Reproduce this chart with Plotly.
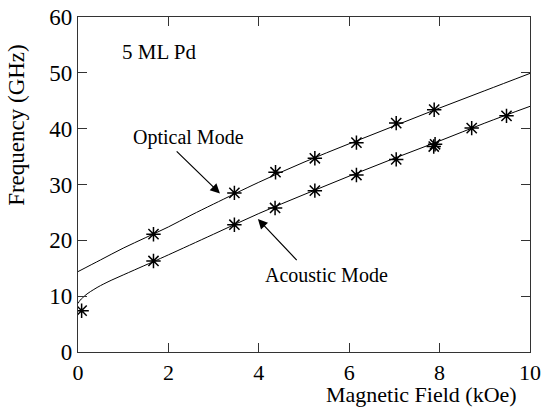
import plotly.graph_objects as go

# Measured points
opt_x = [1.67, 3.46, 4.37, 5.24, 6.16, 7.04, 7.88]
opt_y = [21.1, 28.5, 32.2, 34.7, 37.5, 41.0, 43.4]
ac_x = [0.08, 1.67, 3.46, 4.36, 5.24, 6.16, 7.04, 7.87, 7.90, 8.71, 9.48]
ac_y = [7.4, 16.3, 22.8, 25.8, 28.9, 31.7, 34.5, 36.8, 37.2, 40.1, 42.3]

# Fitted curves
opt_cx = [0, 0.5, 1, 1.5, 2, 2.5, 3, 4, 5, 6, 7, 8, 9, 10]
opt_cy = [14.4, 16.5, 18.6, 20.5, 22.4, 24.5, 26.5, 30.4, 34.0, 37.3, 40.5, 43.7, 46.8, 49.9]
ac_cx = [0, 0.05, 0.1, 0.2, 0.35, 0.5, 0.75, 1, 1.25, 1.67, 2, 3, 4, 5, 6, 7, 8, 9, 10]
ac_cy = [8.7, 9.3, 9.7, 10.4, 11.2, 11.9, 12.9, 13.8, 14.7, 16.2, 17.4, 21.1, 24.8, 28.2, 31.5, 34.7, 37.8, 41.0, 44.0]

x_ticks = [0, 2, 4, 6, 8, 10]
y_ticks = [0, 10, 20, 30, 40, 50, 60]

FONT = "Liberation Serif, DejaVu Serif, Times New Roman, serif"

fig = go.Figure()
fig.add_trace(go.Scatter(x=opt_cx, y=opt_cy, mode="lines",
                         line=dict(color="black", width=1), line_shape="spline", showlegend=False))
fig.add_trace(go.Scatter(x=ac_cx, y=ac_cy, mode="lines",
                         line=dict(color="black", width=1), line_shape="spline", showlegend=False))
marker = dict(symbol="asterisk-open", size=12, color="black", line=dict(color="black", width=1.5))
fig.add_trace(go.Scatter(x=opt_x, y=opt_y, mode="markers", marker=marker, showlegend=False))
fig.add_trace(go.Scatter(x=ac_x, y=ac_y, mode="markers", marker=marker, showlegend=False))

axis_common = dict(
    showgrid=False, zeroline=False, showline=True, linecolor="#333", linewidth=1.2,
    mirror="ticks", ticks="inside", ticklen=9, tickwidth=1.2, tickcolor="#333",
    automargin=False,
)
fig.update_xaxes(range=[0, 10], tickvals=x_ticks,
                 tickfont=dict(family=FONT, size=22, color="black"), **axis_common)
fig.update_yaxes(range=[0, 60], tickvals=y_ticks,
                 tickfont=dict(family=FONT, size=23, color="black"), **axis_common)

annos = [
    dict(text="5 ML Pd", x=0.93, y=53.7, xanchor="left", yanchor="middle", showarrow=False,
         font=dict(family=FONT, size=21, color="black")),
    dict(text="Optical Mode", x=2.44, y=38.5, xanchor="center", yanchor="middle", showarrow=False,
         font=dict(family=FONT, size=20, color="black")),
    dict(text="Acoustic Mode", x=5.5, y=13.8, xanchor="center", yanchor="middle", showarrow=False,
         font=dict(family=FONT, size=20, color="black")),
    dict(text="", x=3.14, y=28.4, ax=2.15, ay=36.2, axref="x", ayref="y", showarrow=True,
         arrowhead=2, arrowsize=1.6, arrowwidth=1.2, arrowcolor="black"),
    dict(text="", x=3.98, y=23.8, ax=4.87, ay=16.2, axref="x", ayref="y", showarrow=True,
         arrowhead=2, arrowsize=1.6, arrowwidth=1.2, arrowcolor="black"),
    dict(text="Magnetic Field (kOe)", xref="paper", yref="paper", x=0.76, y=-0.127,
         xanchor="center", yanchor="middle", showarrow=False,
         font=dict(family=FONT, size=22, color="black")),
    dict(text="Frequency (GHz)", xref="paper", yref="paper", x=-0.135, y=0.678,
         xanchor="center", yanchor="middle", showarrow=False, textangle=-90,
         font=dict(family=FONT, size=23, color="black")),
]

fig.update_layout(
    width=545, height=408,
    margin=dict(l=78, r=15, t=17, b=56, autoexpand=False),
    plot_bgcolor="white", paper_bgcolor="white",
    font=dict(family=FONT),
    annotations=annos,
)

fig.write_html("out.html", config={"displayModeBar": False},
               post_script="document.body.style.margin='0';document.body.style.overflow='hidden';")
